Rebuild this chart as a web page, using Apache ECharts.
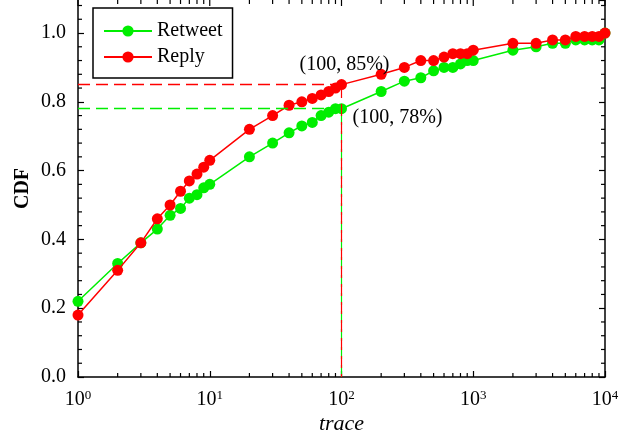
<!DOCTYPE html>
<html>
<head>
<meta charset="utf-8">
<script src="https://cdn.jsdelivr.net/npm/echarts@6/dist/echarts.min.js"></script>
<style>
html,body{margin:0;padding:0;background:#fff;}
#c{width:643px;height:441px;}
</style>
</head>
<body>
<div id="c"></div>
<script>
const traceValues = [1,2,3,4,5,6,7,8,9,10,20,30,40,50,60,70,80,90,100,200,300,400,500,600,700,800,900,1000,2000,3000,4000,5000,6000,7000,8000,9000,10000];
const retweetCDF = [0.22,0.33,0.39,0.43,0.47,0.49,0.52,0.53,0.55,0.56,0.64,0.68,0.71,0.73,0.74,0.76,0.77,0.78,0.78,0.83,0.86,0.87,0.89,0.90,0.90,0.91,0.92,0.92,0.95,0.96,0.97,0.97,0.98,0.98,0.98,0.98,1.0];
const replyCDF = [0.18,0.31,0.39,0.46,0.50,0.54,0.57,0.59,0.61,0.63,0.72,0.76,0.79,0.80,0.81,0.82,0.83,0.84,0.85,0.88,0.90,0.92,0.92,0.93,0.94,0.94,0.94,0.95,0.97,0.97,0.98,0.98,0.99,0.99,0.99,0.99,1.0];
const seriesNames = ['Retweet', 'Reply'];
const xMajorTicks = [1,10,100,1000,10000];
const xMinorTicks = [2,3,4,5,6,7,8,9,20,30,40,50,60,70,80,90,200,300,400,500,600,700,800,900,2000,3000,4000,5000,6000,7000,8000,9000];
const yMinorTicks = [0.04,0.08,0.12,0.16,0.24,0.28,0.32,0.36,0.44,0.48,0.52,0.56,0.64,0.68,0.72,0.76,0.84,0.88,0.92,0.96,1.04,1.08];
const refRetweet = [100, 0.78];
const refReply = [100, 0.85];
const labelRetweet = '(100, 78%)';
const labelReply = '(100, 85%)';

const FONT = 'Liberation Serif';
const GREEN = '#00ee00';
const RED = '#ff0000';
const X_MIN = 1, X_MAX = 10000;
const Y_MIN = 0, Y_MAX = 1.096;

const chart = echarts.init(document.getElementById('c'), null, {renderer: 'canvas'});

function pairs(ys) { return traceValues.map((x, i) => [x, ys[i]]); }

// kind 0: x minor tick (bottom+top), 1: x major tick (top), 2: y minor tick (left+right)
function tickRender(params, api) {
  const v = api.value(0);
  const kind = api.value(1);
  const style = {stroke: '#000', lineWidth: 1.2};
  const children = [];
  if (kind === 0 || kind === 1) {
    const len = kind === 1 ? 6 : 4;
    const b = api.coord([v, Y_MIN]);
    const t = api.coord([v, Y_MAX]);
    if (kind === 0) children.push({type: 'line', shape: {x1: b[0], y1: b[1], x2: b[0], y2: b[1] - len}, style: style});
    children.push({type: 'line', shape: {x1: t[0], y1: t[1], x2: t[0], y2: t[1] + len}, style: style});
  } else {
    const l = api.coord([X_MIN, v]);
    const r = api.coord([X_MAX, v]);
    children.push({type: 'line', shape: {x1: l[0], y1: l[1], x2: l[0] + 4, y2: l[1]}, style: style});
    children.push({type: 'line', shape: {x1: r[0], y1: r[1], x2: r[0] - 4, y2: r[1]}, style: style});
  }
  return {type: 'group', children: children};
}

const tickData = xMinorTicks.map(v => [v, 0])
  .concat(xMajorTicks.map(v => [v, 1]))
  .concat(yMinorTicks.map(v => [v, 2]));

function refLines(color, ref, offset) {
  return {
    silent: true, symbol: 'none', label: {show: false},
    lineStyle: {color: color, type: [12, 6], width: 1.3},
    data: [
      [{coord: [X_MIN, ref[1]]}, {coord: ref}],
      [{coord: [ref[0], Y_MIN], lineStyle: {color: color, type: [12, 6], dashOffset: offset, width: 1.2}}, {coord: ref}]
    ]
  };
}

const option = {
  animation: false,
  backgroundColor: '#fff',
  textStyle: {fontFamily: FONT},
  grid: {left: 78, right: 38, top: 0, bottom: 64, containLabel: false},
  legend: {
    data: seriesNames,
    orient: 'vertical',
    left: 93, top: 8,
    padding: [13, 10, 11, 10],
    itemWidth: 48, itemHeight: 14, itemGap: 6,
    itemTextGap: 13,
    borderColor: '#000', borderWidth: 1.5,
    backgroundColor: '#fff',
    textStyle: {fontFamily: FONT, fontSize: 20, color: '#000', lineHeight: 20}
  },
  xAxis: [{
    type: 'log', logBase: 10, min: X_MIN, max: X_MAX,
    name: 'trace', nameLocation: 'middle', nameGap: 36, nameMoveOverlap: false,
    nameTextStyle: {fontFamily: FONT, fontSize: 22, fontStyle: 'italic', color: '#000'},
    axisLine: {show: true, onZero: false, lineStyle: {color: '#000', width: 1.5}},
    axisTick: {show: true, inside: true, length: 6, lineStyle: {color: '#000', width: 1.2}},
    minorTick: {show: false},
    splitLine: {show: false},
    axisLabel: {
      margin: 12,
      showMinLabel: true, showMaxLabel: true,
      formatter: function (v) {
        const e = Math.round(Math.log10(v));
        return '{b|10}{s|' + e + '}';
      },
      rich: {
        b: {fontFamily: FONT, fontSize: 20, color: '#000', lineHeight: 22},
        s: {fontFamily: FONT, fontSize: 13, color: '#000', verticalAlign: 'top', lineHeight: 13}
      }
    }
  }],
  yAxis: [{
    type: 'value', min: Y_MIN, max: Y_MAX, interval: 0.2,
    name: 'CDF', nameLocation: 'middle', nameGap: 45, nameMoveOverlap: false,
    nameTextStyle: {fontFamily: FONT, fontSize: 20, fontWeight: 'bold', color: '#000'},
    axisLine: {show: true, lineStyle: {color: '#000', width: 1.5}},
    axisTick: {show: true, inside: true, length: 6, lineStyle: {color: '#000', width: 1.2}},
    minorTick: {show: false},
    splitLine: {show: false},
    axisLabel: {
      margin: 12, fontFamily: FONT, fontSize: 20, color: '#000',
      showMaxLabel: false,
      formatter: v => v > 1.05 ? '' : v.toFixed(1)
    }
  }, {
    type: 'value', min: Y_MIN, max: Y_MAX, interval: 0.2, position: 'right',
    axisLine: {show: true, lineStyle: {color: '#000', width: 1.5}},
    axisTick: {show: true, inside: true, length: 6, lineStyle: {color: '#000', width: 1.2}},
    minorTick: {show: false},
    splitLine: {show: false},
    axisLabel: {show: false}
  }],
  series: [
    {
      name: 'Retweet', type: 'line', data: pairs(retweetCDF),
      symbol: 'circle', symbolSize: 11, showSymbol: true,
      lineStyle: {color: GREEN, width: 1.5},
      itemStyle: {color: GREEN},
      z: 3,
      markLine: refLines(GREEN, refRetweet, 0),
      markPoint: {
        silent: true, symbol: 'circle', symbolSize: 0,
        data: [{coord: refRetweet, label: {formatter: labelRetweet, offset: [56, 9]}}],
        label: {show: true, position: 'inside', color: '#000', fontFamily: FONT, fontSize: 20}
      }
    },
    {
      name: 'Reply', type: 'line', data: pairs(replyCDF),
      symbol: 'circle', symbolSize: 11, showSymbol: true,
      lineStyle: {color: RED, width: 1.5},
      itemStyle: {color: RED},
      z: 4,
      markLine: refLines(RED, refReply, 9),
      markPoint: {
        silent: true, symbol: 'circle', symbolSize: 0,
        data: [{coord: refReply, label: {formatter: labelReply, offset: [3, -20]}}],
        label: {show: true, position: 'inside', color: '#000', fontFamily: FONT, fontSize: 20}
      }
    },
    {
      name: 'ticks', type: 'custom', data: tickData,
      renderItem: tickRender, silent: true, z: 1, clip: false,
      encode: {x: 0}
    }
  ]
};
chart.setOption(option);
</script>
</body>
</html>
